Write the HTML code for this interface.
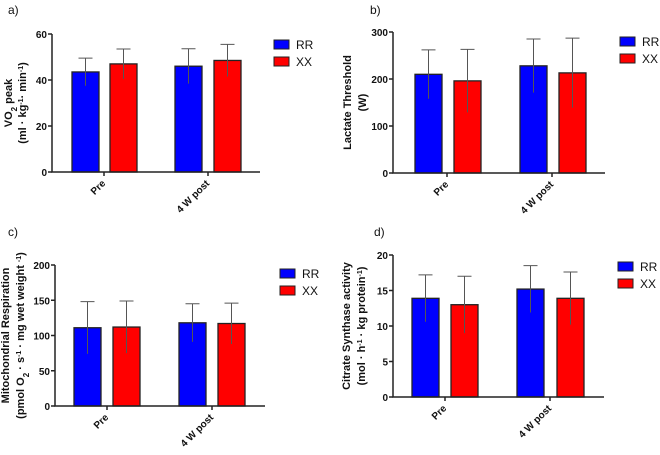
<!DOCTYPE html>
<html><head><meta charset="utf-8"><style>
body{margin:0;background:#fff;width:660px;height:450px;overflow:hidden}
svg{font-family:"Liberation Sans",Arial,sans-serif}
</style></head><body>
<svg id="fig" width="660" height="450" viewBox="0 0 660 450" xmlns="http://www.w3.org/2000/svg"></svg>
<script>
const categories = ["Pre", "4 W post"];
const seriesNames = ["RR", "XX"];
const seriesColors = ["#0000ff", "#ff0000"];
const aRR = [43.5, 46], aXX = [47, 48.5], aRRerr = [6, 7.6], aXXerr = [6.5, 7];
const bRR = [210, 228], bXX = [196, 213], bRRerr = [52, 57], bXXerr = [67, 74];
const cRR = [111, 118], cXX = [112, 117], cRRerr = [37, 27], cXXerr = [37, 29];
const dRR = [13.9, 15.2], dXX = [13.0, 13.9], dRRerr = [3.3, 3.3], dXXerr = [4.0, 3.7];
const aTicks = [0, 20, 40, 60], bTicks = [0, 100, 200, 300], cTicks = [0, 50, 100, 150, 200], dTicks = [0, 5, 10, 15, 20];

const NS = "http://www.w3.org/2000/svg";
const svg = document.getElementById("fig");
function mk(tag, attrs, parent, text) {
  const e = document.createElementNS(NS, tag);
  for (const k in attrs) e.setAttribute(k, attrs[k]);
  if (text !== undefined) e.textContent = text;
  (parent || svg).appendChild(e);
  return e;
}

const panels = [
  {id:"a", letter:"a)", lx:8, ly:14, ax:52, top:34, bot:172, right:260, tickMax:60, ticks:aTicks, rr:aRR, xx:aXX, rre:aRRerr, xxe:aXXerr, bars:[72,110,175,214], ticksX:[104,208], legX:274, legY:40,
   title:['VO<tspan baseline-shift="sub" font-size="8">2</tspan> peak', '(ml · kg<tspan baseline-shift="super" font-size="7">-1</tspan>· min<tspan baseline-shift="super" font-size="7">-1</tspan>)'], tx:[12,26]},
  {id:"b", letter:"b)", lx:370, ly:14, ax:393, top:32, bot:173, right:605, tickMax:300, ticks:bTicks, rr:bRR, xx:bXX, rre:bRRerr, xxe:bXXerr, bars:[415,454,520,559], ticksX:[447,552], legX:620, legY:37,
   title:['Lactate Threshold','(W)'], tx:[351,366]},
  {id:"c", letter:"c)", lx:8, ly:236, ax:55, top:265, bot:406, right:265, tickMax:200, ticks:cTicks, rr:cRR, xx:cXX, rre:cRRerr, xxe:cXXerr, bars:[74,113,179,218], ticksX:[107,212], legX:280, legY:269,
   title:['Mitochondrial Respiration','(pmol O<tspan baseline-shift="sub" font-size="8">2</tspan> · s<tspan baseline-shift="super" font-size="7">-1</tspan> · mg wet weight <tspan baseline-shift="super" font-size="7">-1</tspan>)'], tx:[9,24]},
  {id:"d", letter:"d)", lx:374, ly:236, ax:393, top:255, bot:397, right:604, tickMax:20, ticks:dTicks, rr:dRR, xx:dXX, rre:dRRerr, xxe:dXXerr, bars:[412,451,517,557], ticksX:[445,550], legX:618, legY:262,
   title:['Citrate Synthase activity','(mol · h<tspan baseline-shift="super" font-size="7">-1</tspan> · kg protein<tspan baseline-shift="super" font-size="7">-1</tspan>)'], tx:[350,365]}
];

const BW = 27;
panels.forEach(p => {
  const g = mk("g", {});
  
  
  const y = v => p.bot - (v / p.tickMax) * (p.bot - p.top);
  const lt = mk("text", {x:p.lx, y:p.ly, "font-size":12, fill:"#111"}, g, p.letter);
  
  
  // bars
  const vals = [[p.rr, p.rre], [p.xx, p.xxe]];
  for (let c = 0; c < categories.length; c++) {
    for (let s = 0; s < 2; s++) {
      const x = p.bars[c * 2 + s];
      const v = vals[s][0][c], e = vals[s][1][c];
      const r = mk("rect", {x:x, y:y(v), width:BW, height:p.bot - y(v), fill:seriesColors[s], stroke:"#222", "stroke-width":1.3}, g);
      
      
      const cx = x + BW / 2;
      const eb = mk("path", {d:`M${cx},${y(v - e)}V${y(v + e)}M${cx - 7},${y(v + e)}H${cx + 7}`, stroke:"#555", "stroke-width":1, fill:"none"}, g);
      
      
    }
  }
  // axes
  const axis = mk("path", {d:`M${p.ax},${p.top}V${p.bot}H${p.right}`, stroke:"#222", "stroke-width":1.5, fill:"none"}, g);
  
  
  p.ticks.forEach(t => {
    mk("line", {x1:p.ax - 4, x2:p.ax, y1:y(t), y2:y(t), stroke:"#222", "stroke-width":1.5}, g);
    const tl = mk("text", {x:p.ax - 5, y:y(t) + 4, "font-size":10, "font-weight":"bold", "text-anchor":"end", fill:"#111"}, g, t);
    
    
  });
  categories.forEach((cat, i) => {
    const tx = p.ticksX[i];
    mk("line", {x1:tx, x2:tx, y1:p.bot, y2:p.bot + 4, stroke:"#222", "stroke-width":1.5}, g);
    const cl = mk("text", {x:tx + 2, y:p.bot + 12, "font-size":10, "font-weight":"bold", "text-anchor":"end", fill:"#111", transform:`rotate(-45 ${tx + 2} ${p.bot + 12})`}, g, cat);
    
    
  });
  // y title
  const cy = (p.top + p.bot) / 2;
  p.title.forEach((t, i) => {
    const yt = mk("text", {x:p.tx[i], y:cy, "font-size":11, "font-weight":"bold", "text-anchor":"middle", fill:"#111", transform:`rotate(-90 ${p.tx[i]} ${cy})`}, g);
    yt.innerHTML = t;
    
    
  });
  // legend
  seriesNames.forEach((n, s) => {
    const ly = p.legY + s * 17;
    const lr = mk("rect", {x:p.legX, y:ly, width:15, height:9, fill:seriesColors[s], stroke:"#222", "stroke-width":1}, g);
    
    
    const lt2 = mk("text", {x:p.legX + 22, y:ly + 9, "font-size":12, fill:"#111"}, g, n);
    
    
  });
});
</script>
</body></html>
